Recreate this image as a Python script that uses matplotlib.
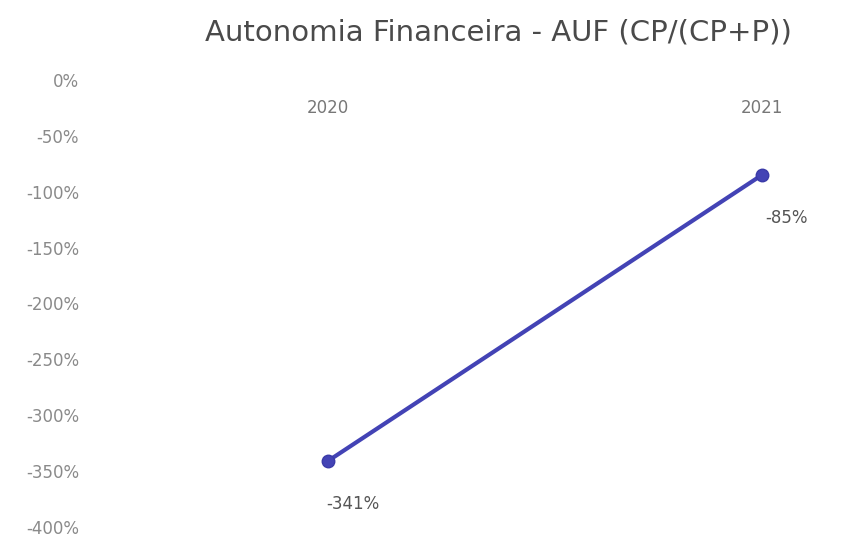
import matplotlib.pyplot as plt
from matplotlib.ticker import FuncFormatter

# dados
anos = ['2020', '2021']
auf = [-341, -85]
yticks = [0, -50, -100, -150, -200, -250, -300, -350, -400]

plt.rcParams['font.family'] = ['DejaVu Sans']

fig = plt.figure(figsize=(8.54, 5.38), dpi=100)
ax = fig.add_axes([90 / 854, 11 / 538, 760 / 854, 447 / 538])

x = list(range(len(anos)))
ax.plot(x, auf, color='#4343B5', linewidth=3, marker='o', markersize=9,
        markerfacecolor='#4343B5', markeredgecolor='#3A3AA8', zorder=3)

# rótulos dos dados
for xi, v in zip(x, auf):
    ax.annotate(f'{v}%', (xi, v), xytext=(18, -31), textcoords='offset points',
                ha='center', va='center', fontsize=12, color='#555555')

# categorias no eixo (em cima, logo abaixo do 0)
for xi, ano in zip(x, anos):
    ax.annotate(ano, (xi, 0), xytext=(0, -20), textcoords='offset points',
                ha='center', va='center', fontsize=12, color='#777777')

ax.set_xlim(-0.548, 1.203)
ax.set_ylim(-400, 0)
ax.set_xticks([])
ax.set_yticks(yticks)
ax.yaxis.set_major_formatter(FuncFormatter(lambda v, p: f'{int(v)}%'))
ax.tick_params(axis='y', length=0, pad=8, labelsize=12, labelcolor='#8A8A8A')
for s in ax.spines.values():
    s.set_visible(False)

fig.text(0.584, 0.94, 'Autonomia Financeira - AUF (CP/(CP+P))', ha='center', va='center',
         fontsize=21, color='#4A4A4A')

plt.savefig('out.png', dpi=100)
